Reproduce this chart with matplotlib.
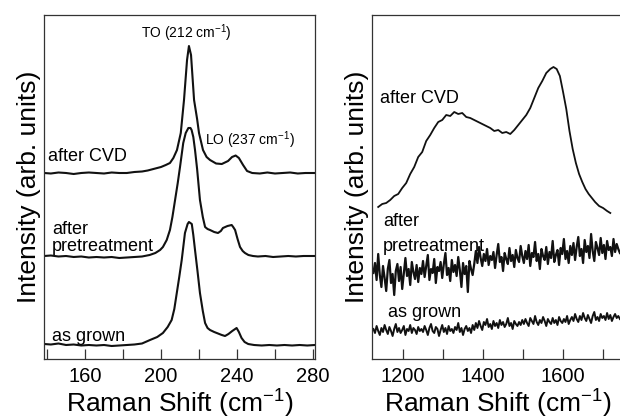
import numpy as np
import matplotlib
matplotlib.use("Agg")
import matplotlib.pyplot as plt
from matplotlib.ticker import FixedLocator

plt.rcParams['font.family'] = ['Liberation Sans', 'DejaVu Sans']
plt.rcParams['mathtext.fontset'] = 'custom'
plt.rcParams['mathtext.rm'] = 'Liberation Sans'
plt.rcParams['mathtext.it'] = 'Liberation Sans:italic'

# ---- left panel: low wavenumber region (TO / LO phonons) ----
cvd_x = [138.5, 142, 146, 150, 154, 158, 162, 166, 170, 174, 178, 182, 186, 190, 193, 196, 198, 200,
         202.5, 204.7, 206.5, 208.4, 210.4, 212.1, 213.7, 214.7, 215.8, 217.4, 219, 220, 222.1, 224,
         225.8, 229, 232, 235.3, 237.4, 239.3, 241, 243.2, 245.3, 248, 252, 256, 260, 264, 268, 272,
         276, 281]
cvd_y = [186, 185.5, 186.5, 186, 185, 186, 186.5, 186, 185.5, 186.5, 186, 186, 187, 187.5, 188.5, 190,
         191, 192, 194, 196, 201, 209, 226, 259, 299, 313, 304, 259, 240, 226, 209, 202,
         199, 195.5, 195, 198, 202, 203.5, 201, 194, 188, 186, 185.5, 186.5, 185.5, 186, 186.5, 185.5,
         186, 186]

pre_x = [138.5, 142, 146, 150, 154, 158, 162, 166, 170, 174, 178, 182, 186, 190, 194, 197, 199.5, 201,
         203, 204.7, 206, 207.4, 208.8, 210, 211.7, 213, 214.4, 215.5, 216.1, 217, 217.9, 219, 220.5,
         222, 223.2, 224.5, 225.8, 228, 230, 231.5, 232.6, 235, 237.2, 238, 239, 240.3, 241.6, 243,
         244.2, 246, 248.4, 251, 255, 259, 263, 267, 271, 275, 281]
pre_y = [103, 103.5, 102.5, 103, 102, 102.5, 101.5, 102, 101.5, 102, 101, 101.5, 102, 102.5, 104, 106,
         109, 112, 119, 129, 142, 159, 176, 192, 216, 226, 231, 231, 229, 222, 209, 190, 159,
         142, 132, 130, 129, 127, 126, 128, 131, 133, 134, 132, 129, 120, 112, 108,
         106, 104, 103, 102.5, 103, 102, 102.5, 103, 102.5, 103, 103]

grown_x = [138.5, 142, 146, 150, 154, 158, 162, 166, 170, 174, 178, 182, 186, 190, 194.2, 198, 201,
           203.5, 205.6, 207, 208.3, 209.6, 210.9, 212.6, 214, 214.7, 216.2, 217, 217.9, 219.2, 220.5,
           222, 223.2, 224.5, 225.8, 228, 230, 232, 233.7, 235.5, 237.5, 239.8, 241, 242.4, 244,
           245.9, 249, 253, 257, 261, 265, 269, 273, 277, 281]
grown_y = [15, 14.5, 15.5, 14, 14.5, 13.5, 14, 13.5, 14, 13, 13.5, 14, 14.5, 15.5, 19, 22, 26,
           32, 39, 50, 66, 82, 99, 126, 135, 137, 135, 124, 109, 88, 66,
           48, 36, 31, 29, 27, 25.5, 24, 23, 25, 28, 31, 27, 21, 17,
           15, 14, 13.5, 14, 13.5, 14, 13.5, 14, 13.5, 14]

# ---- right panel: D / G band region ----
dg_x = [1138, 1148, 1158, 1168, 1178, 1188, 1198, 1208, 1218, 1228, 1238, 1248, 1258, 1268, 1278,
        1288, 1298, 1308, 1318, 1328, 1338, 1348, 1358, 1368, 1378, 1388, 1398, 1408, 1418, 1428,
        1438, 1448, 1458, 1468, 1478, 1488, 1498, 1508, 1518, 1528, 1538, 1548, 1558, 1568, 1576,
        1584, 1592, 1600, 1608, 1616, 1624, 1632, 1640, 1648, 1656, 1664, 1672, 1680, 1690, 1700,
        1710, 1718]
dg_cvd = [152, 155, 156, 159, 163, 165, 171, 176, 185, 192, 202, 207, 218, 224, 231,
          237, 239, 244, 243, 247, 245, 246, 242, 241, 239, 237, 235, 233, 231, 228,
          229, 226, 227, 225, 229, 234, 239, 244, 251, 261, 271, 278, 286, 290, 292,
          290, 283, 267, 250, 228, 210, 196, 185, 177, 170, 165, 161, 157, 153, 151,
          148, 146]

noise_start, noise_end = 1126, 1742
dg_pre = [86, 96, 79, 105, 84, 72, 93, 81, 68, 90,
          99, 76, 85, 64, 88, 95, 78, 92, 70, 86,
          101, 83, 90, 74, 97, 87, 80, 94, 77, 91, 85,
          98, 82, 93, 104, 79, 90, 86, 100, 76, 92,
          88, 97, 81, 95, 106, 84, 91, 78, 99, 87,
          94, 83, 102, 89, 72, 96, 85, 93, 67, 98, 90, 84, 95,
          108, 96, 112, 101, 93, 105, 98, 110, 94, 103,
          99, 107, 91, 104, 115, 97, 102, 88, 106, 100,
          95, 111, 98, 104, 92, 109, 101, 97, 113, 103,
          96, 108, 100, 114, 93, 106, 102, 117, 98, 105,
          90, 110, 103, 99, 112, 95, 107, 101, 118, 97,
          104, 109, 94, 111, 105, 120, 100, 108, 96, 113,
          104, 116, 99, 112, 122, 103, 110, 96, 119, 107,
          113, 101, 125, 108, 98, 117, 111, 104, 121, 106,
          114, 100, 118, 109, 112, 103, 120, 107, 115, 110, 106]
dg_grown = [30, 26, 33, 28, 24, 31, 27, 34, 29, 25,
            32, 28, 23, 30, 35, 27, 31, 26, 29, 33,
            24, 30, 28, 34, 26, 31, 29, 25, 32, 28, 30,
            27, 33, 29, 24, 31, 35, 28, 26, 32, 30,
            23, 29, 34, 27, 31, 25, 33, 28, 30, 26,
            32, 29, 36, 27, 31, 24, 30, 33, 28, 31, 26, 34, 29,
            36, 31, 38, 33, 29, 37, 34, 40, 32, 35,
            30, 38, 33, 36, 31, 39, 34, 37, 32, 35,
            41, 33, 36, 30, 38, 35, 33, 37, 34, 39,
            35, 40, 36, 33, 41, 38, 35, 43, 37, 34,
            39, 36, 42, 38, 33, 40, 37, 35, 41, 36,
            39, 34, 42, 38, 36, 40, 37, 43, 35, 39,
            42, 38, 45, 40, 37, 43, 39, 46, 41, 38,
            44, 40, 36, 43, 47, 39, 42, 38, 45, 41,
            43, 39, 46, 40, 44, 38, 42, 45, 41, 43, 40]

fig = plt.figure(figsize=(6.2, 4.19), dpi=100)
ax1 = fig.add_axes([0.071, 0.1432, 0.437, 0.821])
ax2 = fig.add_axes([0.600, 0.1432, 0.405, 0.821])

lc = '#111111'
ax1.plot(cvd_x, cvd_y, color=lc, lw=1.5)
ax1.plot(pre_x, pre_y, color=lc, lw=1.5)
ax1.plot(grown_x, grown_y, color=lc, lw=1.5)

xs = np.linspace(noise_start, noise_end, len(dg_pre))
ax2.plot(dg_x, dg_cvd, color=lc, lw=1.3)
ax2.plot(xs, dg_pre, color=lc, lw=1.6)
ax2.plot(np.linspace(noise_start, noise_end, len(dg_grown)), dg_grown, color=lc, lw=1.4)

ax1.set_xlim(138.4, 281.05)
ax2.set_xlim(1122.5, 1750)
for ax in (ax1, ax2):
    ax.set_ylim(0, 344)
    ax.set_yticks([])
    for s in ax.spines.values():
        s.set_linewidth(0.9)
        s.set_color('#333333')
    ax.tick_params(axis='x', direction='in', length=7, width=0.9, color='#333333',
                   labelsize=14.5, pad=6)
    ax.tick_params(axis='x', which='minor', direction='in', length=7, width=0.9, color='#333333')
    ax.set_xlabel('Raman Shift (cm$^{-1}$)', fontsize=19, labelpad=1)
    ax.set_ylabel('Intensity (arb. units)', fontsize=19, labelpad=2)

ax1.xaxis.set_major_locator(FixedLocator([160, 200, 240, 280]))
ax1.xaxis.set_minor_locator(FixedLocator([140, 180, 220, 260]))
ax2.xaxis.set_major_locator(FixedLocator([1200, 1400, 1600]))
ax2.xaxis.set_minor_locator(FixedLocator([1300, 1500, 1700]))

fs = 13
ax1.text(140.5, 202, 'after CVD', fontsize=fs, va='center')
ax1.text(142.6, 129, 'after', fontsize=fs, va='center')
ax1.text(142.6, 112, 'pretreatment', fontsize=fs, va='center')
ax1.text(142.6, 22, 'as grown', fontsize=fs, va='center')
ax1.text(213.2, 326, 'TO (212 cm$^{-1}$)', fontsize=10, ha='center', va='center')
ax1.text(246.6, 219, 'LO (237 cm$^{-1}$)', fontsize=10, ha='center', va='center')

ax2.text(1142.5, 260, 'after CVD', fontsize=fs, va='center')
ax2.text(1150, 137, 'after', fontsize=fs, va='center')
ax2.text(1150, 112, 'pretreatment', fontsize=fs, va='center')
ax2.text(1162.5, 46, 'as grown', fontsize=fs, va='center')

fig.savefig('out.png', dpi=100)
